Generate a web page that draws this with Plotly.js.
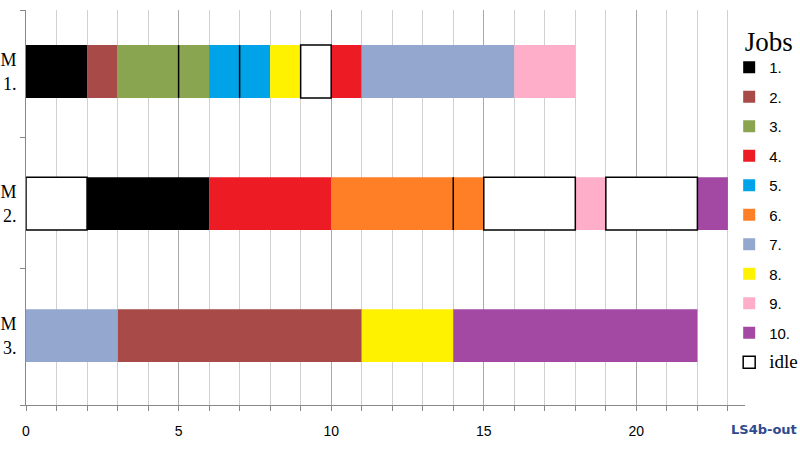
<!DOCTYPE html>
<html>
<head>
<meta charset="utf-8">
<script src="https://cdn.plot.ly/plotly-3.0.1.min.js"></script>
<style>html,body{margin:0;padding:0;background:#fff;}#chart{width:800px;height:450px;}</style>
</head>
<body>
<div id="chart"></div>
<script>
// Machines (y categories) and their labels
const machineLabels = ['M<br>1.', 'M<br>2.', 'M<br>3.'];
// Jobs
const jobNames = ['1.', '2.', '3.', '4.', '5.', '6.', '7.', '8.', '9.', '10.'];
const jobColors = ['#000000', '#A84A48', '#8AA550', '#ED1C24', '#00A2E8',
                   '#FF7F27', '#93A7CF', '#FFF200', '#FFAEC9', '#A349A4'];
// Schedule segments (job 0 = idle)
const segMachine = [0, 0, 0, 0, 0, 0, 0, 0, 0,   1, 1, 1, 1, 1, 1, 1, 1,   2, 2, 2, 2];
const segJob     = [1, 2, 3, 5, 8, 0, 4, 7, 9,   0, 1, 4, 6, 0, 9, 0, 10,  7, 2, 8, 10];
const segStart   = [0, 2, 3, 6, 8, 9, 10, 11, 16, 0, 2, 6, 10, 15, 18, 19, 22, 0, 3, 11, 14];
const segEnd     = [2, 3, 6, 8, 9, 10, 11, 16, 18, 2, 6, 10, 15, 18, 19, 22, 23, 3, 11, 14, 22];
// Operation separators inside a job block (machine, time)
const sepMachine = [0, 0, 1];
const sepTime    = [5, 7, 14];
// X tick labels
const xTickVals = [0, 5, 10, 15, 20];

const barWidth = 0.4;
const traces = [];

function segmentsFor(job) {
  const x = [], base = [], y = [];
  for (let i = 0; i < segJob.length; i++) {
    if (segJob[i] === job) {
      x.push(segEnd[i] - segStart[i]);
      base.push(segStart[i]);
      y.push(segMachine[i]);
    }
  }
  return {x, base, y};
}

for (let j = 1; j <= jobNames.length; j++) {
  const s = segmentsFor(j);
  traces.push({
    type: 'bar', orientation: 'h', x: s.x, base: s.base, y: s.y,
    width: barWidth, name: jobNames[j - 1], legendgroup: 'g' + j,
    marker: {color: jobColors[j - 1], line: {width: 0}},
    hoverinfo: 'skip'
  });
}
const idle = segmentsFor(0);
traces.push({
  type: 'bar', orientation: 'h', x: idle.x, base: idle.base, y: idle.y,
  width: barWidth, name: '<span style="font-family:\'Liberation Serif\';font-size:19px">idle</span>',
  legendgroup: 'idle',
  marker: {color: '#ffffff', line: {width: 1.5, color: '#000000'}},
  hoverinfo: 'skip'
});

// separators
const sx = [], sy = [];
for (let i = 0; i < sepTime.length; i++) {
  sx.push(sepTime[i], sepTime[i], null);
  sy.push(sepMachine[i] - barWidth / 2, sepMachine[i] + barWidth / 2, null);
}
traces.push({
  type: 'scatter', mode: 'lines', x: sx, y: sy, showlegend: false,
  line: {color: '#000000', width: 1.5}, hoverinfo: 'skip'
});

const layout = {
  width: 800, height: 450,
  margin: {l: 26, r: 55, t: 10, b: 45, autoexpand: false},
  paper_bgcolor: '#ffffff', plot_bgcolor: '#ffffff',
  barmode: 'overlay',
  showlegend: true,
  xaxis: {
    range: [0, 23.56], showgrid: true, gridcolor: '#a8a8a8', gridwidth: 1,
    tickvals: xTickVals, ticks: 'outside', ticklen: 5, tickcolor: '#888888',
    ticklabelstandoff: 8,
    minor: {dtick: 1, showgrid: true, gridcolor: '#d0d0d0', gridwidth: 1, ticks: 'outside', ticklen: 5, tickcolor: '#888888'},
    showline: true, linecolor: '#888888', linewidth: 1, zeroline: false,
    tickfont: {family: 'Liberation Sans, Arial, sans-serif', size: 14, color: '#000000'},
    fixedrange: true
  },
  yaxis: {
    range: [2.526, -0.466], tickvals: [0, 1, 2], ticktext: machineLabels,
    ticks: '', showgrid: false, zeroline: false, ticklabelstandoff: 5,
    showline: true, linecolor: '#888888', linewidth: 1,
    minor: {tickvals: [-0.466, 0.5, 1.49, 2.526], ticks: 'outside', ticklen: 5, tickcolor: '#888888', showgrid: false},
    tickfont: {family: 'Liberation Serif, Times New Roman, serif', size: 18, color: '#000000'},
    fixedrange: true
  },
  legend: {
    x: 0.978, xanchor: 'left', y: 0.985, yanchor: 'top',
    bgcolor: 'rgba(255,255,255,0)', borderwidth: 0,
    traceorder: 'grouped', tracegroupgap: 7, itemwidth: 30,
    font: {family: 'Liberation Sans, Arial, sans-serif', size: 15, color: '#000000'},
    title: {text: '&nbsp;&nbsp;Jobs', side: 'top', font: {family: 'Liberation Serif, Times New Roman, serif', size: 27, color: '#000000'}}
  },
  annotations: [{
    xref: 'paper', yref: 'paper', x: 1.075, y: -0.063, xanchor: 'right', yanchor: 'middle',
    text: '<b>LS4b-out</b>', showarrow: false,
    font: {family: 'DejaVu Sans, sans-serif', size: 13, color: '#2F4A8C'}
  }]
};

Plotly.newPlot('chart', traces, layout, {displayModeBar: false, staticPlot: true});
</script>
</body>
</html>
